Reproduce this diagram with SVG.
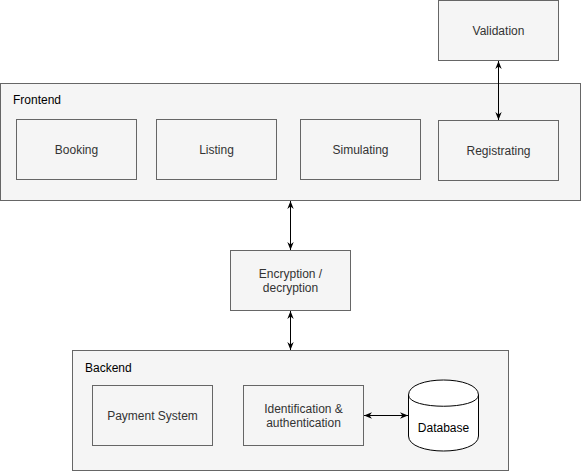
<svg xmlns="http://www.w3.org/2000/svg" width="581" height="472" viewBox="0 0 581 472">
<style>
.box{fill:#f5f5f5;stroke:#666666;stroke-width:1}
.t{font-family:"Liberation Sans",Arial,sans-serif;font-size:12px;fill:#333333;text-anchor:middle}
.lbl{font-family:"Liberation Sans",Arial,sans-serif;font-size:12px;fill:#000000}
.c{stroke:#000000;stroke-width:1;fill:none;marker-start:url(#a);marker-end:url(#a)}
</style>
<defs>
<marker id="a" viewBox="0 0 10 10" refX="10" refY="5" markerWidth="8" markerHeight="8" markerUnits="userSpaceOnUse" orient="auto-start-reverse">
<path d="M0,1 L10,5 L0,9 L3,5 Z" fill="#000"/>
</marker>
</defs>
<g id="frontend">
<rect class="box" x="0.5" y="83.5" width="580" height="117"/>
<text class="lbl" x="13" y="104">Frontend</text>
</g>
<g id="validation"><rect class="box" x="438.5" y="0.5" width="120" height="60"/><text class="t" x="498.5" y="35">Validation</text></g>
<g id="booking"><rect class="box" x="16.5" y="119.5" width="120" height="60"/><text class="t" x="76.5" y="154">Booking</text></g>
<g id="listing"><rect class="box" x="156.5" y="119.5" width="120" height="60"/><text class="t" x="216.5" y="154">Listing</text></g>
<g id="simulating"><rect class="box" x="300.5" y="119.5" width="120" height="60"/><text class="t" x="360.5" y="154">Simulating</text></g>
<g id="registrating"><rect class="box" x="438.5" y="120.5" width="120" height="60"/><text class="t" x="498.5" y="155">Registrating</text></g>
<g id="encryption"><rect class="box" x="230.5" y="250.5" width="120" height="60"/><text class="t" x="290.5" y="278">Encryption /</text><text class="t" x="290.5" y="292">decryption</text></g>
<g id="backend">
<rect class="box" x="72.5" y="350.5" width="436" height="120"/>
<text class="lbl" x="85" y="372">Backend</text>
</g>
<g id="payment"><rect class="box" x="92.5" y="385.5" width="120" height="60"/><text class="t" x="152.5" y="420">Payment System</text></g>
<g id="identification"><rect class="box" x="243.5" y="385.5" width="120" height="60"/><text class="t" x="303.5" y="413">Identification &amp;</text><text class="t" x="303.5" y="427">authentication</text></g>
<g id="database">
<path d="M408.5,395 C408.5,375 478.5,375 478.5,395 L478.5,436 C478.5,456 408.5,456 408.5,436 Z" fill="#ffffff" stroke="#000000"/>
<path d="M408.5,395 C408.5,410 478.5,410 478.5,395" fill="none" stroke="#000000"/>
<text class="t" x="443.5" y="432" style="fill:#000000">Database</text>
</g>
<g id="connectors">
<line class="c" x1="498.5" y1="61" x2="498.5" y2="120"/>
<line class="c" x1="290.5" y1="201" x2="290.5" y2="250"/>
<line class="c" x1="290.5" y1="311" x2="290.5" y2="350"/>
<line class="c" x1="364" y1="415.5" x2="408" y2="415.5"/>
</g>
</svg>
